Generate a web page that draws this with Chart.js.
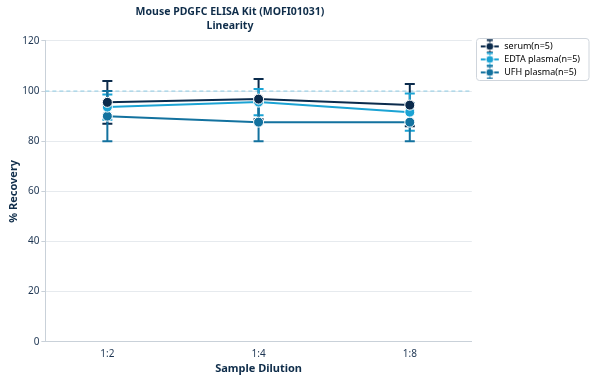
<!DOCTYPE html>
<html><head><meta charset="utf-8">
<script src="https://cdn.jsdelivr.net/npm/chart.js@4/dist/chart.umd.min.js"></script>
<style>html,body{margin:0;padding:0;background:#fff}#w{width:590px;height:380px}</style>
</head><body><div id="w"><canvas id="c"></canvas></div>
<script>
const categories = ['1:2', '1:4', '1:8'];
const seriesNames = ['serum(n=5)', 'EDTA plasma(n=5)', 'UFH plasma(n=5)'];
const serum = [95.5, 96.8, 94.4];
const serumErr = [8.5, 8.0, 8.4];
const edta = [93.6, 95.6, 91.6];
const edtaErr = [5.0, 5.2, 7.4];
const ufh = [90.0, 87.6, 87.6];
const ufhErr = [10.0, 7.6, 7.6];
const yTicks = [0, 20, 40, 60, 80, 100, 120];
const refValue = 100;
const colors = ['#0b2b4c', '#1ba3d4', '#13729f'];

const vals = [serum, edta, ufh];
const errs = [serumErr, edtaErr, ufhErr];

function legendIcon(col) {
  const c = document.createElement('canvas');
  c.width = 20; c.height = 14;
  const g = c.getContext('2d');
  g.strokeStyle = col; g.lineWidth = 2;
  g.beginPath(); g.moveTo(1, 7); g.lineTo(19, 7); g.stroke();
  g.lineWidth = 1.5;
  g.beginPath(); g.moveTo(10, 1); g.lineTo(10, 13);
  g.moveTo(7, 1); g.lineTo(13, 1); g.moveTo(7, 13); g.lineTo(13, 13); g.stroke();
  g.fillStyle = col; g.strokeStyle = '#fff'; g.lineWidth = 1;
  g.beginPath(); g.arc(10, 7, 4, 0, Math.PI * 2); g.fill(); g.stroke();
  return c;
}

const errPlugin = {
  id: 'err',
  afterLayout(chart) {
    const t = chart.titleBlock;
    if (t) { t.left = 0; t.right = 460; t.width = 460; }
    const lg = chart.legend;
    if (lg) { lg.left += 4; lg.right += 4; lg.top -= 3; }
  },
  beforeDatasetsDraw(chart) {
    const { ctx, scales: { x, y }, chartArea } = chart;
    ctx.save();
    ctx.strokeStyle = '#8ccbe2'; ctx.lineWidth = 1; ctx.setLineDash([4, 3]);
    const ry = y.getPixelForValue(refValue);
    ctx.beginPath(); ctx.moveTo(chartArea.left, ry); ctx.lineTo(chartArea.right, ry); ctx.stroke();
    ctx.setLineDash([]);
    vals.forEach((arr, si) => {
      ctx.strokeStyle = colors[si]; ctx.lineWidth = 2;
      arr.forEach((v, i) => {
        const px = x.getPixelForValue(i);
        const top = y.getPixelForValue(v + errs[si][i]);
        const bot = y.getPixelForValue(v - errs[si][i]);
        ctx.beginPath();
        ctx.moveTo(px, top); ctx.lineTo(px, bot);
        ctx.moveTo(px - 5, top); ctx.lineTo(px + 5, top);
        ctx.moveTo(px - 5, bot); ctx.lineTo(px + 5, bot);
        ctx.stroke();
      });
    });
    ctx.restore();
  },
  afterDraw(chart) {
    const lg = chart.legend;
    if (!lg || !lg.legendHitBoxes || !lg.legendHitBoxes.length) return;
    const hb = lg.legendHitBoxes;
    const l = Math.min(...hb.map(b => b.left)) - 4;
    const t = Math.min(...hb.map(b => b.top)) - 4;
    const b = Math.max(...hb.map(b => b.top + b.height)) + 3;
    const r = chart.width - 1;
    const ctx = chart.ctx;
    ctx.save();
    ctx.strokeStyle = '#cfd5dc'; ctx.lineWidth = 1;
    ctx.beginPath();
    ctx.roundRect(Math.round(l) + 0.5, Math.round(t) + 0.5, r - Math.round(l) - 0.5, b - t, 3);
    ctx.stroke();
    ctx.restore();
  }
};

Chart.defaults.font.family = '"Noto Sans", "Open Sans", sans-serif';
Chart.defaults.color = '#1d3552';

new Chart(document.getElementById('c'), {
  type: 'line',
  data: {
    datasets: vals.map((arr, si) => ({
      label: seriesNames[si],
      data: arr.map((v, i) => ({ x: i, y: v })),
      borderColor: colors[si],
      backgroundColor: colors[si],
      pointBackgroundColor: colors[si],
      pointBorderColor: '#fff',
      pointBorderWidth: 1,
      pointRadius: 5,
      borderWidth: 2,
      tension: 0,
      pointStyle: 'circle'
    }))
  },
  options: {
    responsive: true,
    maintainAspectRatio: false,
    animation: false,
    layout: { padding: { left: 3, right: 4, top: 0, bottom: 0 } },
    plugins: {
      title: {
        display: true,
        text: ['Mouse PDGFC ELISA Kit (MOFI01031)', 'Linearity'],
        font: { size: 10.5, weight: 'bold', lineHeight: 1.33 },
        color: '#0f2d4a',
        fullSize: false,
        padding: { top: 5, bottom: 8 }
      },
      legend: {
        position: 'right',
        align: 'start',
        fullSize: false,
        labels: {
          usePointStyle: true,
          pointStyleWidth: 20,
          boxHeight: 9,
          padding: 4,
          font: { size: 9 },
          color: '#1d3552',
          generateLabels(chart) {
            return seriesNames.map((n, i) => ({
              text: n, pointStyle: legendIcon(colors[i]), datasetIndex: i,
              fillStyle: colors[i], strokeStyle: colors[i], lineWidth: 0, hidden: false
            }));
          }
        }
      },
      tooltip: { enabled: false }
    },
    scales: {
      x: {
        type: 'linear',
        min: -0.41, max: 2.41,
        afterBuildTicks(axis) { axis.ticks = categories.map((c, i) => ({ value: i })); },
        ticks: { callback: (v) => categories[v], font: { size: 10 }, color: '#1d3552', padding: 2 },
        grid: { display: false, drawTicks: true, tickLength: 4 },
        border: { color: '#c9d1d9', width: 1 },
        title: { display: true, text: 'Sample Dilution', font: { size: 11, weight: 'bold' }, color: '#0f2d4a', padding: { top: 0, bottom: 5 } }
      },
      y: {
        min: 0, max: 120,
        afterBuildTicks(axis) { axis.ticks = yTicks.map(v => ({ value: v })); },
        ticks: { font: { size: 10 }, color: '#1d3552', padding: 2 },
        grid: { color: '#e6eaee', tickLength: 4, tickColor: '#c9d1d9' },
        border: { color: '#c9d1d9', width: 1 },
        title: { display: true, text: '% Recovery', font: { size: 11, weight: 'bold' }, color: '#0f2d4a', padding: { top: 4, bottom: 0 } }
      }
    }
  },
  plugins: [errPlugin]
});
</script></body></html>
